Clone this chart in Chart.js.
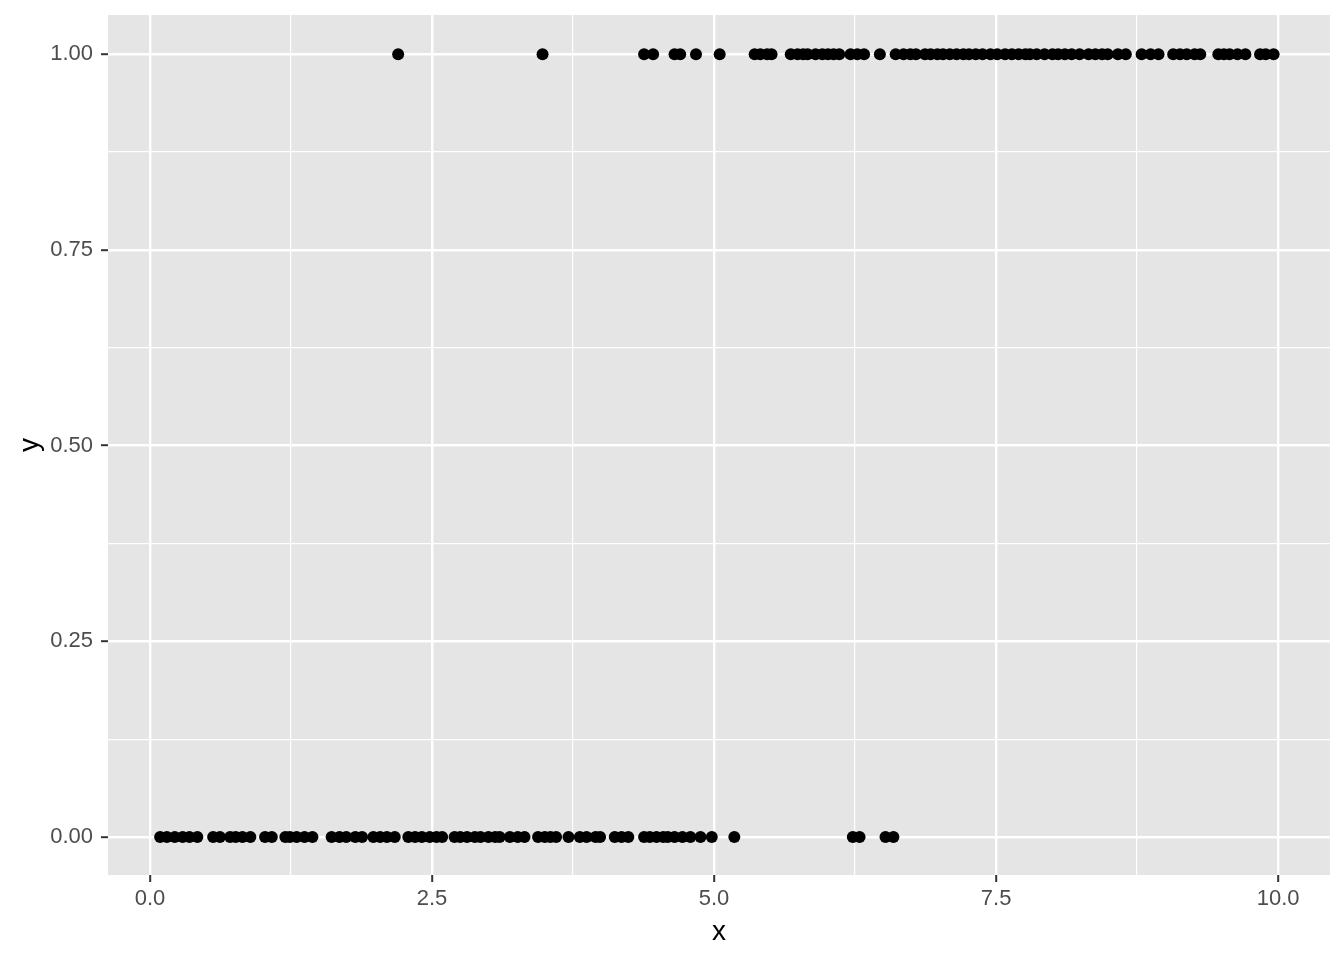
<!DOCTYPE html>
<html>
<head>
<meta charset="utf-8">
<script src="https://cdn.jsdelivr.net/npm/chart.js@4.4.1/dist/chart.umd.min.js"></script>
<style>
  html, body { margin: 0; padding: 0; background: #ffffff; }
  #plot { display: block; }
</style>
</head>
<body>
<canvas id="plot" width="1344" height="960"></canvas>
<script>
// x values of the points sitting at y = 0
var xAtZero = [0.09, 0.15, 0.22, 0.29, 0.35, 0.42,
    0.56, 0.62, 0.71, 0.76, 0.82, 0.89,
    1.02, 1.08, 1.20, 1.24, 1.30, 1.37, 1.44,
    1.61, 1.68, 1.74, 1.82, 1.88,
    1.98, 2.04, 2.10, 2.17,
    2.29, 2.35, 2.41, 2.48, 2.54, 2.59,
    2.70, 2.75, 2.81, 2.88, 2.93, 3.00, 3.06, 3.10,
    3.19, 3.26, 3.32,
    3.44, 3.50, 3.55, 3.60, 3.71,
    3.81, 3.87, 3.95, 3.99,
    4.12, 4.18, 4.24,
    4.38, 4.43, 4.49, 4.55, 4.59, 4.65, 4.72, 4.79, 4.88, 4.98,
    5.18, 6.23, 6.29, 6.52, 6.59];
// x values of the points sitting at y = 1
var xAtOne = [2.20, 3.48, 4.38, 4.46, 4.65, 4.70, 4.84, 5.05,
    5.36, 5.41, 5.47, 5.51, 5.68, 5.74, 5.79, 5.83, 5.90, 5.96, 6.01, 6.06, 6.11,
    6.21, 6.27, 6.33, 6.47, 6.61, 6.68, 6.74, 6.79, 6.87, 6.92, 6.98,
    7.03, 7.09, 7.15, 7.21, 7.26, 7.32, 7.38, 7.45, 7.51, 7.58, 7.64, 7.70,
    7.76, 7.80, 7.86, 7.93, 8.00, 8.05, 8.11, 8.17, 8.24, 8.32, 8.38, 8.44,
    8.49, 8.58, 8.65, 8.79, 8.87, 8.94, 9.07, 9.13, 9.19, 9.26, 9.31,
    9.47, 9.52, 9.57, 9.64, 9.71, 9.84, 9.89, 9.96];

var xMajor = [0, 2.5, 5, 7.5, 10];
var xMinor = [1.25, 3.75, 6.25, 8.75];
var yMajor = [0, 0.25, 0.5, 0.75, 1];
var yMinor = [0.125, 0.375, 0.625, 0.875];
var xLabels = ['0.0', '2.5', '5.0', '7.5', '10.0'];
var yLabels = ['0.00', '0.25', '0.50', '0.75', '1.00'];

var points = [];
xAtZero.forEach(function (v) { points.push({x: v, y: 0}); });
xAtOne.forEach(function (v) { points.push({x: v, y: 1}); });

var FONT = "'Liberation Sans', Arial, Helvetica, sans-serif";

function isMajor(list, v) {
    return list.some(function (m) { return Math.abs(m - v) < 1e-9; });
}
function labelFor(list, labels, v) {
    for (var i = 0; i < list.length; i++) {
        if (Math.abs(list[i] - v) < 1e-9) return labels[i];
    }
    return '';
}

// grey panel behind the grid
var panelBg = {
    id: 'panelBg',
    beforeDraw: function (chart) {
        var a = chart.chartArea, ctx = chart.ctx;
        ctx.save();
        ctx.fillStyle = '#E5E5E5';
        ctx.fillRect(a.left, a.top, a.right - a.left, a.bottom - a.top);
        ctx.restore();
    }
};

new Chart(document.getElementById('plot'), {
    type: 'scatter',
    data: {
        datasets: [{
            data: points,
            backgroundColor: '#000000',
            borderWidth: 0,
            pointRadius: 6,
            pointHoverRadius: 6
        }]
    },
    options: {
        responsive: false,
        animation: false,
        events: [],
        layout: { padding: { top: 15, right: 14, left: 0, bottom: 0 } },
        plugins: { legend: { display: false }, tooltip: { enabled: false } },
        scales: {
            x: {
                type: 'linear',
                min: -0.372,
                max: 10.46,
                afterFit: function (s) { s.height = 85; s.paddingLeft = 0; s.paddingRight = 0; },
                afterBuildTicks: function (s) {
                    s.ticks = xMajor.concat(xMinor).sort(function (a, b) { return a - b; })
                        .map(function (v) { return {value: v}; });
                },
                border: { display: false },
                grid: {
                    color: '#FFFFFF',
                    lineWidth: function (c) { return isMajor(xMajor, c.tick.value) ? 2.4 : 1.2; },
                    tickColor: function (c) { return isMajor(xMajor, c.tick.value) ? '#333333' : 'rgba(0,0,0,0)'; },
                    tickWidth: 2,
                    tickLength: 7
                },
                ticks: {
                    autoSkip: false,
                    maxRotation: 0,
                    padding: 4,
                    color: '#4D4D4D',
                    font: { family: FONT, size: 22 },
                    callback: function (v) { return labelFor(xMajor, xLabels, v); }
                },
                title: {
                    display: true,
                    text: 'x',
                    color: '#000000',
                    font: { family: FONT, size: 28 },
                    padding: { top: 0, bottom: 11 }
                }
            },
            y: {
                type: 'linear',
                min: -0.0485,
                max: 1.05,
                afterFit: function (s) { s.width = 108; s.paddingTop = 0; s.paddingBottom = 0; },
                afterBuildTicks: function (s) {
                    s.ticks = yMajor.concat(yMinor).sort(function (a, b) { return a - b; })
                        .map(function (v) { return {value: v}; });
                },
                border: { display: false },
                grid: {
                    color: '#FFFFFF',
                    lineWidth: function (c) { return isMajor(yMajor, c.tick.value) ? 2.4 : 1.2; },
                    tickColor: function (c) { return isMajor(yMajor, c.tick.value) ? '#333333' : 'rgba(0,0,0,0)'; },
                    tickWidth: 2,
                    tickLength: 7
                },
                ticks: {
                    autoSkip: false,
                    padding: 8,
                    color: '#4D4D4D',
                    font: { family: FONT, size: 22 },
                    callback: function (v) { return labelFor(yMajor, yLabels, v); }
                },
                title: {
                    display: true,
                    text: 'y',
                    color: '#000000',
                    font: { family: FONT, size: 28 },
                    padding: { top: 13, bottom: 0 }
                }
            }
        }
    },
    plugins: [panelBg]
});
</script>
</body>
</html>
